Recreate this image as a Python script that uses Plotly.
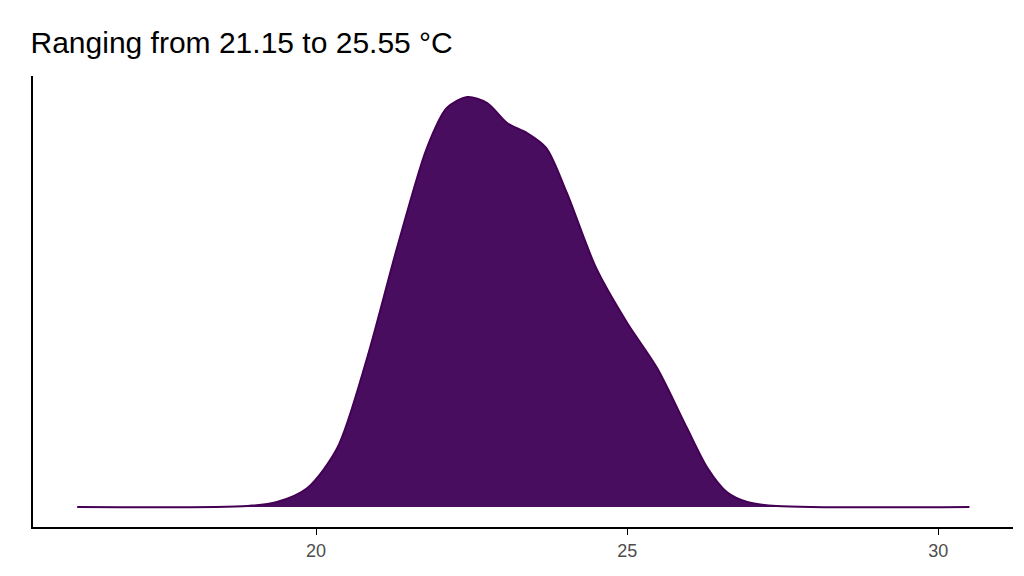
import plotly.graph_objects as go

# temperature (°C) and density height (relative units)
temp = [16.16, 18.9, 19.37, 19.86, 20.34, 20.82, 21.3, 21.78, 22.1, 22.43, 22.75,
        23.07, 23.39, 23.7, 24.03, 24.5, 25.0, 25.48, 25.96, 26.29, 26.6, 26.93, 27.4, 30.5]
density = [0, 1, 5, 19, 59, 149, 259, 359, 399, 410, 404,
           384, 374, 359, 314, 239, 184, 139, 79, 39, 15, 5, 1, 0]

fig = go.Figure()
fig.add_trace(go.Scatter(
    x=temp, y=density, mode="lines", fill="tozeroy",
    line=dict(color="#440154", width=2, shape="spline", smoothing=0.8),
    fillcolor="#480D5F", showlegend=False,
))
fig.update_layout(
    width=1024, height=576,
    margin=dict(l=25, r=19, t=68, b=57),
    plot_bgcolor="white", paper_bgcolor="white",
    font=dict(family="Liberation Sans, Arial, sans-serif"),
    title=dict(text="Ranging from 21.15 to 25.55 °C", x=0.022, xanchor="left",
               y=0.94, yanchor="middle", font=dict(size=30, color="black")),
    xaxis=dict(range=[15.45, 31.2], tickvals=[20, 25, 30], showgrid=False,
               zeroline=False, showline=True, linecolor="black", linewidth=2,
               ticks="outside", ticklen=6, tickcolor="black",
               tickfont=dict(size=18, color="#4d4d4d")),
    yaxis=dict(range=[-20, 431], showgrid=False, zeroline=False, showline=True,
               linecolor="black", linewidth=2, showticklabels=False, ticks=""),
)
fig.write_html("out.html")
